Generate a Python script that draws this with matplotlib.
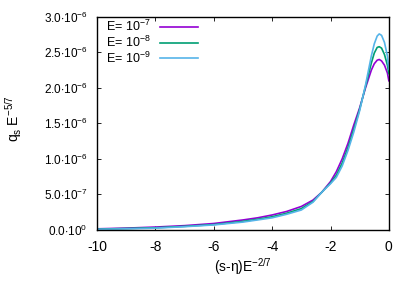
import numpy as np
import matplotlib
matplotlib.use("Agg")
import matplotlib.pyplot as plt

plt.rcParams['font.family'] = ['Liberation Sans', 'DejaVu Sans']
plt.rcParams['mathtext.fontset'] = 'custom'
plt.rcParams['mathtext.rm'] = 'Liberation Sans'
plt.rcParams['mathtext.it'] = 'Liberation Sans'

# x = (s-eta) E^(-2/7)
s = [-10, -9, -8, -7, -6, -5, -4.5, -4, -3.5, -3, -2.6, -2.3, -2.0, -1.8, -1.6,
     -1.4, -1.2, -1.0, -0.8, -0.6, -0.5, -0.4, -0.33, -0.25, -0.15, -0.05, 0]

# q_s E^(-5/7), in units of 1e-6
q_e7 = [0.015, 0.025, 0.04, 0.06, 0.09, 0.14, 0.17, 0.21, 0.26, 0.33, 0.42, 0.53,
        0.68, 0.82, 1.0, 1.22, 1.48, 1.72, 2.0, 2.25, 2.34, 2.39, 2.40, 2.38, 2.32,
        2.21, 2.10]
q_e8 = [0.01, 0.02, 0.03, 0.05, 0.075, 0.12, 0.15, 0.185, 0.235, 0.3, 0.4, 0.53,
        0.66, 0.77, 0.94, 1.16, 1.42, 1.7, 2.02, 2.35, 2.49, 2.57, 2.58, 2.56, 2.47,
        2.32, 2.20]
q_e9 = [0.008, 0.015, 0.025, 0.045, 0.07, 0.11, 0.14, 0.17, 0.22, 0.28, 0.39, 0.53,
        0.65, 0.74, 0.9, 1.12, 1.38, 1.68, 2.04, 2.45, 2.62, 2.73, 2.76, 2.74, 2.64,
        2.45, 2.26]

labels = [r'E= 10$^{-7}$', r'E= 10$^{-8}$', r'E= 10$^{-9}$']
colors = ['#9400D3', '#009E73', '#56B4E9']

yticks = [0, 0.5e-6, 1.0e-6, 1.5e-6, 2.0e-6, 2.5e-6, 3.0e-6]
ytick_labels = [r'0.0$\cdot$10$^{0}$', r'5.0$\cdot$10$^{-7}$', r'1.0$\cdot$10$^{-6}$',
                r'1.5$\cdot$10$^{-6}$', r'2.0$\cdot$10$^{-6}$', r'2.5$\cdot$10$^{-6}$',
                r'3.0$\cdot$10$^{-6}$']
xticks = [-10, -8, -6, -4, -2, 0]

fig = plt.figure(figsize=(4.15, 2.91), dpi=100)
ax = fig.add_axes([0.234, 0.21, 0.703, 0.732])

for q, lab, c in zip([q_e7, q_e8, q_e9], labels, colors):
    ax.plot(s, np.array(q) * 1e-6, color=c, lw=1.2, label=lab)

ax.set_xlim(-10, 0)
ax.set_ylim(0, 3e-6)
ax.set_xticks(xticks)
ax.set_xticklabels([str(t) for t in xticks])
ax.set_yticks(yticks)
ax.set_yticklabels(ytick_labels)
ax.tick_params(direction='in', top=True, right=True, length=3, width=0.6)
ax.tick_params(axis='x', labelsize=10, pad=7)
ax.tick_params(axis='y', labelsize=8.5, pad=7)
for sp in ax.spines.values():
    sp.set_linewidth(1.0)

ax.set_xlabel(r'(s-$\mathregular{\eta}$)E$^{-2/7}$', fontsize=10)
ax.xaxis.set_label_coords(0.5, -0.125)
ax.set_ylabel(r'q$_{s}$ E$^{-5/7}$', fontsize=10)
ax.yaxis.set_label_coords(-0.25, 0.52)

ax.legend(loc='upper left', frameon=False, markerfirst=False, fontsize=9,
          handlelength=3.05, handletextpad=0.72, labelspacing=0.05,
          borderpad=0.0, borderaxespad=0.0,
          bbox_to_anchor=(0.03, 0.99))

fig.savefig('out.png', dpi=100)
